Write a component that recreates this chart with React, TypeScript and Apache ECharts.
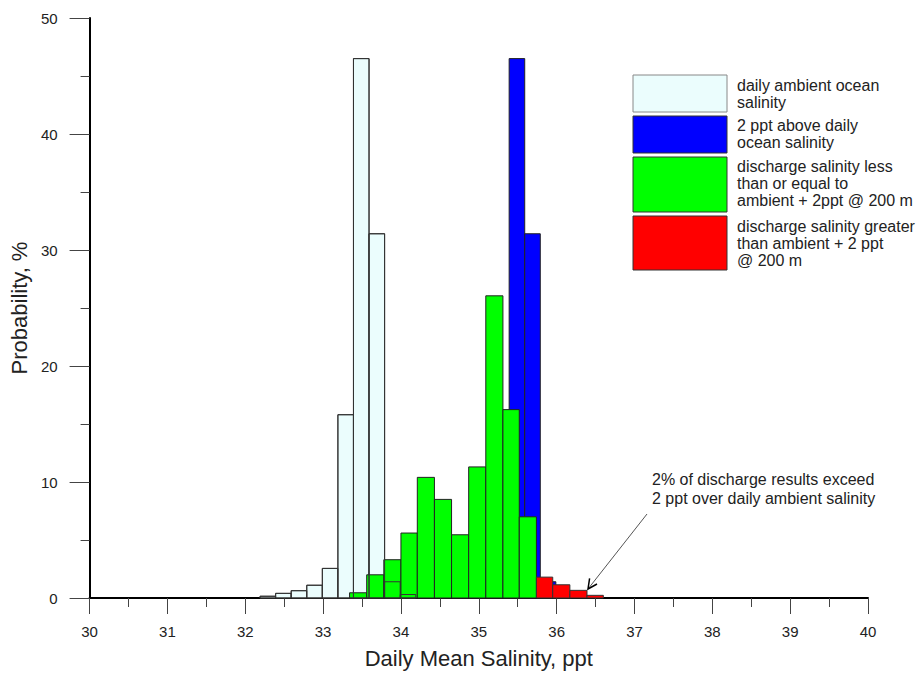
import React, { useEffect, useRef } from "react";
import * as echarts from "echarts";

// ---- data ----
// bin edges (ppt) and probabilities (%)
const ambientEdges = [32.19, 32.39, 32.59, 32.79, 32.99, 33.19, 33.39, 33.59, 33.79, 33.99, 34.19];
const ambientPct = [0.15, 0.4, 0.63, 1.1, 2.55, 15.8, 46.5, 31.4, 1.4, 0.3];

const aboveEdges = [34.19, 34.39, 34.59, 34.79, 34.99, 35.19, 35.39, 35.59, 35.79, 35.99, 36.19];
const abovePct = [0.15, 0.4, 0.63, 1.1, 2.55, 15.8, 46.5, 31.4, 1.4, 0.3];

const okEdges = [33.34, 33.56, 33.78, 34.0, 34.21, 34.43, 34.65, 34.87, 35.09, 35.31, 35.52, 35.74];
const okPct = [0.45, 2.0, 3.3, 5.6, 10.4, 8.5, 5.45, 11.3, 26.05, 16.24, 7.0];

const exceedEdges = [35.74, 35.95, 36.17, 36.39, 36.6];
const exceedPct = [1.8, 1.14, 0.66, 0.23];

const legendLabels = [
  ["daily ambient ocean", "salinity"],
  ["2 ppt above daily", "ocean salinity"],
  ["discharge salinity less", "than or equal to", "ambient + 2ppt @ 200 m"],
  ["discharge salinity greater", "than ambient + 2 ppt", "@ 200 m"],
];
const noteLines = ["2% of discharge results exceed", "2 ppt over daily ambient salinity"];
const xTitle = "Daily Mean Salinity, ppt";
const yTitle = "Probability, %";

const FONT = '"Liberation Sans", Arial, Helvetica, sans-serif';
const AMBIENT = "#ebfdfd";
const BLUE = "#0000ff";
const GREEN = "#00ff00";
const RED = "#ff0000";

function bins(edges: number[], vals: number[]) {
  return vals.map((v, i) => [edges[i], edges[i + 1], v]);
}

function barRenderer(fill: string, stroke: string) {
  return (params: any, api: any) => {
    const x0 = api.value(0);
    const x1 = api.value(1);
    const v = api.value(2);
    const a = api.coord([x0, v]);
    const b = api.coord([x1, 0]);
    return {
      type: "rect",
      shape: { x: a[0], y: a[1], width: b[0] - a[0], height: b[1] - a[1] },
      style: { fill, stroke, lineWidth: 1 },
    };
  };
}

function histSeries(name: string, data: number[][], fill: string, stroke: string) {
  return {
    type: "custom",
    name,
    data,
    encode: { x: [0, 1], y: 2 },
    renderItem: barRenderer(fill, stroke),
    silent: true,
  };
}

export default function App() {
  const ref = useRef<HTMLDivElement>(null);

  useEffect(() => {
    if (!ref.current) return;
    const chart = echarts.init(ref.current, undefined, { renderer: "svg" });

    const legendBoxes = [
      { y: 75, h: 37, fill: AMBIENT, stroke: "#888888" },
      { y: 116, h: 37, fill: BLUE, stroke: "#333333" },
      { y: 157, h: 55, fill: GREEN, stroke: "#333333" },
      { y: 216, h: 54, fill: RED, stroke: "#333333" },
    ];
    const legendLineY = [
      [85, 102],
      [125, 142],
      [166, 183, 200],
      [226, 243, 260],
    ];

    const graphics: any[] = [];
    legendBoxes.forEach((b, i) => {
      graphics.push({
        type: "rect",
        shape: { x: 633, y: b.y, width: 94, height: b.h },
        style: { fill: b.fill, stroke: b.stroke, lineWidth: 1 },
      });
      legendLabels[i].forEach((t, j) => {
        graphics.push({
          type: "text",
          x: 737,
          y: legendLineY[i][j],
          style: {
            text: t,
            fontSize: 16,
            fontFamily: FONT,
            fill: "#222",
            verticalAlign: "middle",
            align: "left",
          },
        });
      });
    });
    noteLines.forEach((t, j) => {
      graphics.push({
        type: "text",
        x: 652,
        y: 479 + j * 19,
        style: {
          text: t,
          fontSize: 16,
          fontFamily: FONT,
          fill: "#222",
          verticalAlign: "middle",
          align: "left",
        },
      });
    });
    graphics.push({
      type: "line",
      shape: { x1: 647, y1: 514, x2: 588, y2: 589 },
      style: { stroke: "#555", lineWidth: 1 },
    });
    graphics.push({
      type: "polyline",
      shape: { points: [[597, 584], [588, 589], [589.6, 578.3]] },
      style: { stroke: "#000", lineWidth: 1.5, fill: "none" },
    });

    chart.setOption({
      animation: false,
      grid: { left: 84, right: 50, top: 18, bottom: 72, containLabel: false },
      xAxis: {
        type: "value",
        min: 30,
        max: 40,
        interval: 1,
        name: xTitle,
        nameLocation: "middle",
        nameGap: 49,
        nameTextStyle: { fontSize: 22, fontFamily: FONT, color: "#222" },
        axisLine: { show: true, onZero: false, lineStyle: { color: "#000", width: 2 } },
        axisTick: { show: true, length: 16, lineStyle: { color: "#444", width: 1 } },
        minorTick: { show: true, splitNumber: 2, length: 9, lineStyle: { color: "#444", width: 1 } },
        axisLabel: { margin: 26, fontSize: 15, fontFamily: FONT, color: "#222" },
        splitLine: { show: false },
        minorSplitLine: { show: false },
      },
      yAxis: {
        type: "value",
        min: 0,
        max: 50,
        interval: 10,
        name: yTitle,
        nameLocation: "middle",
        nameGap: 53,
        nameTextStyle: { fontSize: 22, fontFamily: FONT, color: "#222" },
        axisLine: { show: true, lineStyle: { color: "#000", width: 2 } },
        axisTick: { show: true, length: 20, lineStyle: { color: "#444", width: 1 } },
        minorTick: { show: true, splitNumber: 2, length: 9, lineStyle: { color: "#444", width: 1 } },
        axisLabel: { margin: 32, fontSize: 15, fontFamily: FONT, color: "#222" },
        splitLine: { show: false },
        minorSplitLine: { show: false },
      },
      series: [
        histSeries("daily ambient ocean salinity", bins(ambientEdges, ambientPct), AMBIENT, "#333"),
        histSeries("2 ppt above daily ocean salinity", bins(aboveEdges, abovePct), BLUE, "#222"),
        histSeries("discharge salinity <= ambient + 2ppt", bins(okEdges, okPct), GREEN, "#222"),
        histSeries("discharge salinity > ambient + 2 ppt", bins(exceedEdges, exceedPct), RED, "#333"),
        histSeries("ambient outline", bins(ambientEdges, ambientPct), "none", "#333"),
      ],
      graphic: graphics,
    });

    return () => chart.dispose();
  }, []);

  return (
    <div
      ref={ref}
      style={{ position: "absolute", left: 0, top: 0, width: 918, height: 674, background: "#fff" }}
    />
  );
}
